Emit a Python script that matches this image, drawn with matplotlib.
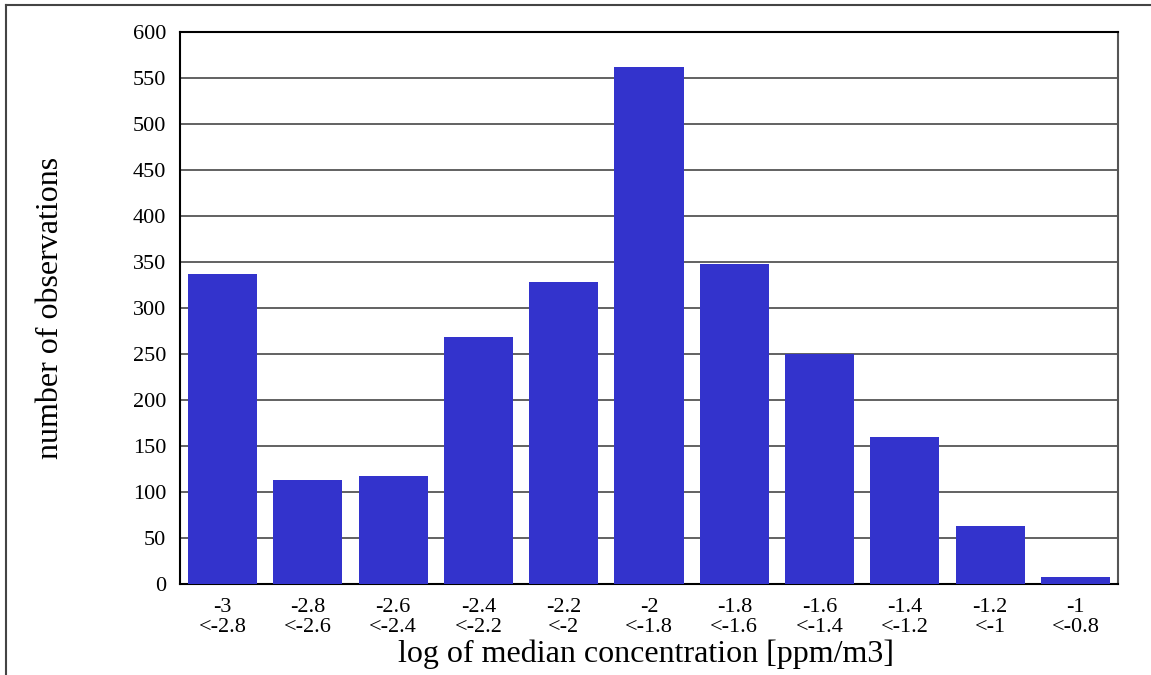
import matplotlib
matplotlib.use("Agg")
import matplotlib.pyplot as plt
from matplotlib.lines import Line2D

# bin lower edges and upper limits
bin_low = ['-3', '-2.8', '-2.6', '-2.4', '-2.2', '-2', '-1.8', '-1.6', '-1.4', '-1.2', '-1']
bin_high = ['<-2.8', '<-2.6', '<-2.4', '<-2.2', '<-2', '<-1.8', '<-1.6', '<-1.4', '<-1.2', '<-1', '<-0.8']
counts = [337, 113, 117, 268, 328, 562, 348, 250, 160, 63, 8]
yticks = [0, 50, 100, 150, 200, 250, 300, 350, 400, 450, 500, 550, 600]

plt.rcParams['font.family'] = ['Liberation Serif', 'DejaVu Serif']

fig = plt.figure(figsize=(11.51, 6.75), dpi=100)
ax = fig.add_axes([180/1151, 1 - 584/675, 938/1151, 552/675])

x = list(range(len(counts)))
ax.bar(x, counts, width=0.81, color='#3333CC', zorder=3)

ax.set_xlim(-0.5, len(counts) - 0.5)
ax.set_ylim(0, 600)
ax.set_yticks(yticks)
ax.set_yticklabels([str(v) for v in yticks], fontsize=16)
ax.set_xticks(x)
ax.set_xticklabels([a + '\n' + b for a, b in zip(bin_low, bin_high)],
                   fontsize=16, linespacing=1.1)
ax.tick_params(axis='y', length=0, pad=10)
ax.tick_params(axis='x', length=0, pad=10)

for v in yticks[1:-1]:
    ax.axhline(v, color='#555555', linewidth=1.3, zorder=1)

for s in ['left', 'bottom', 'top']:
    ax.spines[s].set_color('black')
    ax.spines[s].set_linewidth(1.5)
ax.spines['right'].set_color('#555555')
ax.spines['right'].set_linewidth(1.5)

ax.set_ylabel('number of observations', fontsize=23, va='center')
ax.yaxis.set_label_coords((51 - 180) / 938, 0.5)
ax.set_xlabel('log of median concentration [ppm/m3]', fontsize=23, va='center')
ax.xaxis.set_label_coords(0.497, (584 - 654) / 552)

# outer frame (left and top edges visible)
fig.add_artist(Line2D([6/1151, 6/1151], [0, 1 - 5/675], transform=fig.transFigure,
                      color='#444444', linewidth=1.5))
fig.add_artist(Line2D([6/1151, 1], [1 - 5/675, 1 - 5/675], transform=fig.transFigure,
                      color='#444444', linewidth=1.5))

fig.savefig('out.png', dpi=100)
